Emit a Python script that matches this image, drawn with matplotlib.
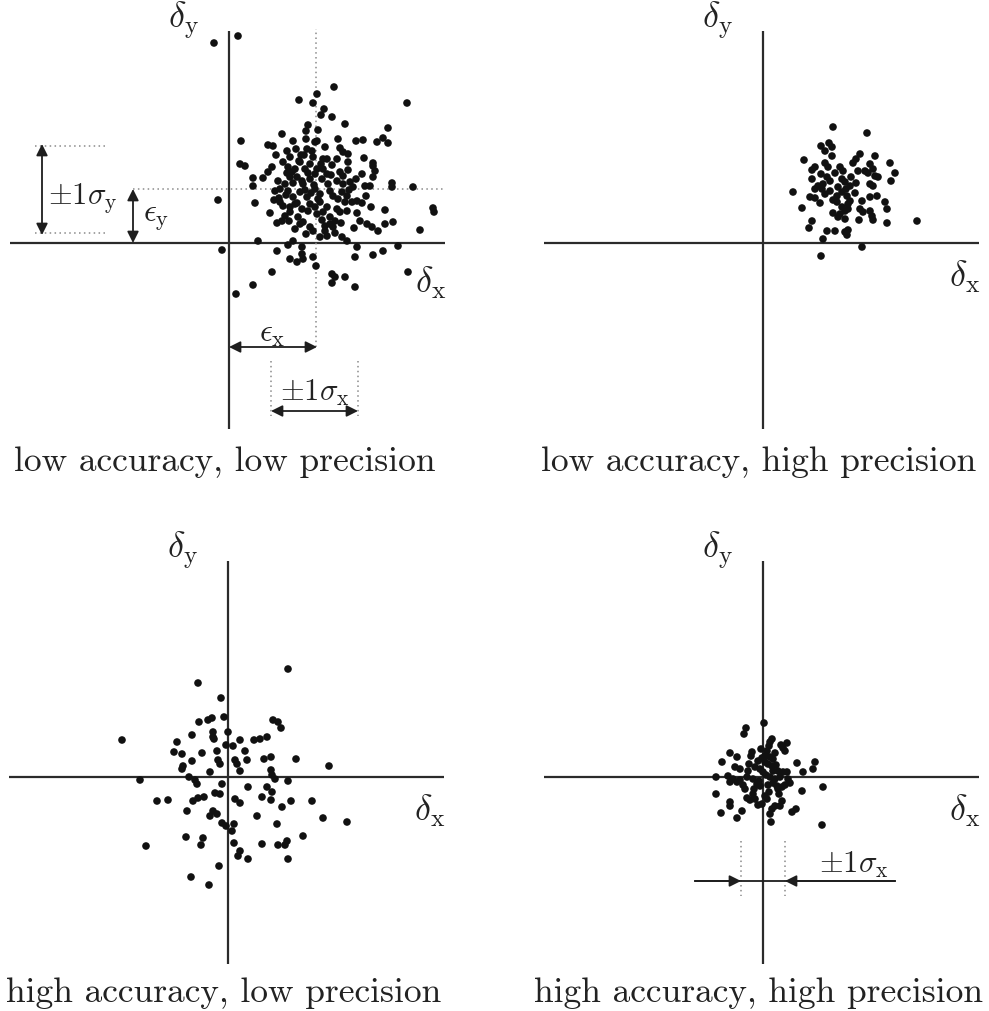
import matplotlib
matplotlib.use("Agg")
import matplotlib.pyplot as plt
from matplotlib.patches import FancyArrowPatch

plt.rcParams["mathtext.fontset"] = "cm"
plt.rcParams["font.family"] = ["cmr10", "DejaVu Serif"]
plt.rcParams["axes.unicode_minus"] = False

# ---------------------------------------------------------------------------
# Measurement errors (delta_x, delta_y) for each of the four cases
# ---------------------------------------------------------------------------
low_acc_low_prec_dx = [
    -15, 9, 70, 88, 84, 95, 92, 79, 77, 89, 53, 12, 39, 44, 77, 88, 78, 75, 70,
    105, 178, 103, 116, 159, 127, 134, 148, 154, 159, 111, 114, 119, 108, 94, 144,
    11, 16, 43, 39, 24, 34, 49, 59, 63, 61, 24, 51, 59, -11, 26, 45, 50, 51, 54,
    56, 53, 74, 66, 81, 84, 29, 64, 59, 73, -7, 48, 73, 61, 68, 74, 84, 87, 43,
    24, 7, 94, 98, 111, 114, 133, 144, 146, 144, 163, 163, 184, 114, 121, 124,
    136, 141, 101, 104, 113, 118, 123, 128, 133, 91, 98, 94, 108, 111, 118, 156,
    204, 205, 101, 106, 96, 101, 131, 138, 143, 149, 125, 156, 164, 191, 96, 104,
    98, 118, 128, 126, 144, 154, 169, 179, 103, 106, 103, 116, 126,
    71, 76, 81, 68, 74, 81, 71, 78, 66, 73, 81, 61, 69, 86, 86, 89, 88, 56, 66, 84,
    67, 61, 54, 72, 83, 64, 58, 92, 98, 103, 88, 79, 73, 93, 99, 85, 91, 82, 76,
    64, 57, 68, 61, 79, 86, 93, 71, 60, 77, 91, 106, 112, 116, 109, 120, 127, 119,
    108, 102, 86, 96, 64, 58, 47, 46, 41, 48, 109, 119, 135, 128, 137, 142, 113,
]
low_acc_low_prec_dy = [
    200, 207, 143, 149, 140, 134, 128, 118, 112, 113, 109, 102, 98, 97, 104, 102,
    94, 88, 82, 156, 140, 126, 119, 115, 102, 103, 101, 105, 100, 95, 91, 89, 84,
    84, 80, 79, 77, 76, 71, 65, 65, 62, 76, 71, 66, 57, 54, 52, 43, 40, 43, 45,
    41, 37, 27, 22, 21, 14, 16, 12, 2, 2, -2, -4, -7, -8, -11, -16, -19, -16, -14,
    -23, -29, -42, -51, 74, 69, 71, 67, 69, 77, 72, 66, 60, 56, 56, 59, 61, 56, 57,
    57, 52, 47, 51, 47, 41, 42, 40, 41, 36, 31, 34, 31, 32, 33, 35, 31, 26, 22, 17,
    19, 22, 19, 16, 12, 15, 19, 21, 13, 12, 16, 7, 2, -4, -14, -12, -8, -3, -29,
    -31, -34, -40, -34, -44,
    81, 74, 79, 66, 59, 64, 51, 46, 39, 34, 39, 31, 26, 69, 54, 44, 29, 59, 74, 86,
    94, 86, 81, 88, 92, 60, 70, 79, 84, 78, 74, 70, 62, 64, 59, 58, 49, 50, 53,
    46, 48, 40, 36, 32, 36, 23, 19, 22, 9, 6, 10, 20, 41, 44, 53, 64, 73,
    62, 68, 101, 96, 102, 92, 88, 52, 30, 20, 104, 81, 85, 30, 47, 36, 6,
]

low_acc_high_prec_dx = [
    70, 104, 58, 66, 69, 62, 69, 41, 97, 93, 90, 112, 65, 52, 49, 77, 80, 107, 110,
    102, 105, 112, 115, 127, 132, 128, 58, 49, 64, 67, 60, 55, 79, 82, 87, 93, 107,
    110, 52, 59, 67, 62, 75, 79, 74, 30, 47, 52, 70, 74, 84, 87, 85, 99, 107, 114,
    122, 39, 79, 82, 85, 77, 97, 100, 107, 109, 124, 154, 49, 46, 75, 82, 96, 110,
    124, 64, 72, 82, 85, 84, 60, 99, 58,
    62, 72, 88, 83, 57, 92, 70, 95,
]
low_acc_high_prec_dy = [
    116, 110, 97, 100, 96, 92, 87, 83, 89, 84, 80, 87, 76, 76, 73, 76, 72, 79, 74,
    72, 70, 67, 66, 80, 70, 62, 69, 64, 66, 62, 59, 57, 64, 61, 57, 60, 59, 57, 54,
    54, 52, 49, 56, 51, 47, 51, 46, 45, 43, 41, 47, 42, 39, 42, 46, 47, 41, 35, 36,
    32, 34, 29, 34, 31, 32, 27, 34, 22, 22, 15, 26, 24, 23, 23, 20, 12, 12, 11, 13,
    8, 4, -4, -13,
    80, 70, 66, 54, 40, 50, 30, 72,
]

high_acc_low_prec_dx = [
    -30, -7, -29, -20, -16, -4, -106, -36, -15, -15, -14, -51, -2, -54, -46, -26,
    -11, -36, -10, -8, -45, -46, -18, -88, -39, -33, -31, -6, -71, -60, -35, -30,
    -24, -13, -8, -41, -15, -18, -11, -6, -2, -42, -25, -27, -82, -9, -37, -19,
    60, 45, 50, 53, 0, 12, 26, 32, 39, 5, 17, 7, 9, 19, 36, 43, 68, 101, 12, 43,
    44, 47, 60, 20, 39, 44, 34, 7, 12, 43, 63, 84, 54, 29, 95, 119, 6, 4, 49, 75,
    6, 34, 50, 57, 59, 12, 10, 20, 60,
]
high_acc_low_prec_dy = [
    94, 79, 55, 57, 59, 60, 37, 42, 45, 40, 38, 35, 32, 25, 23, 24, 26, 16, 17, 13,
    11, 8, 5, -3, 0, -3, -7, -7, -24, -23, -24, -21, -20, -16, -17, -34, -34, -39,
    -37, -46, -49, -60, -61, -68, -69, -89, -100, -108,
    108, 57, 55, 49, 45, 37, 37, 38, 40, 31, 26, 17, 13, 17, 18, 20, 18, 11, 6, 7,
    2, -2, -4, -10, -10, -15, -20, -22, -26, -23, -24, -24, -30, -39, -41, -45,
    -47, -54, -47, -59, -66, -67, -68, -68, -64, -74, -79, -82, -82,
]

high_acc_high_prec_dx = [
    1, -17, -19, 9, 7, 6, 18, 24, 20, 22, -33, -11, -12, 4, 2, -1, 7, 10, -26, -41,
    -5, 2, 5, 9, -14, 34, 52, 50, -28, -23, -15, -3, 0, 10, 15, 20, 24, 40, -47,
    -35, -30, -23, -16, -10, 7, 12, 17, 25, 27, -33, -26, -6, -3, 10, 14, 19, 22,
    -18, 6, 15, 39, 60, -47, -10, 2, 4, -16, -13, -8, -33, -33, 19, 17, -1, -5,
    12, 9, -21, 29, 33, -42, 7, -26, 8, 59,
    -8, 3, -4, 13, -20, 16, -9, 5, -2, 12,
]
high_acc_high_prec_dy = [
    54, 49, 43, 38, 35, 31, 32, 34, 29, 26, 24, 25, 21, 26, 21, 19, 20, 18, 20, 15,
    16, 15, 13, 11, 13, 14, 15, 8, 10, 8, 6, 8, 5, 6, 6, 5, 5, 5, 0, 1, -2, -3, 0,
    -2, 0, -2, 0, -2, -6, -5, -5, -7, -9, -6, -9, -10, -8, -12, -15, -12, -14, -10,
    -17, -17, -19, -22, -21, -23, -22, -25, -29, -24, -29, -27, -28, -29, -32, -34,
    -35, -32, -36, -37, -41, -45, -48,
    10, 2, -4, 12, -8, -17, -12, -8, 28, 24,
]

titles = [
    "low accuracy, low precision",
    "low accuracy, high precision",
    "high accuracy, low precision",
    "high accuracy, high precision",
]

# ---------------------------------------------------------------------------
W, H = 989, 1012
fig = plt.figure(figsize=(W / 100, H / 100), dpi=100)

LINE = "#2b2b2b"
DOT = "#111111"
DOTTED = dict(color="#8a8a8a", lw=1.1, linestyle=(0, (1, 2.2)))

# (left, top) of each quadrant and the pixel position of its origin
quadrants = [
    ((0, 0), (229, 244)),
    ((W / 2, 0), (763, 244)),
    ((0, H / 2), (228, 778)),
    ((W / 2, H / 2), (763, 778)),
]
data = [
    (low_acc_low_prec_dx, low_acc_low_prec_dy),
    (low_acc_high_prec_dx, low_acc_high_prec_dy),
    (high_acc_low_prec_dx, high_acc_low_prec_dy),
    (high_acc_high_prec_dx, high_acc_high_prec_dy),
]

axes = []
for (ql, qt), (ox, oy) in quadrants:
    qw, qh = W / 2, H / 2
    ax = fig.add_axes([ql / W, 1 - (qt + qh) / H, qw / W, qh / H])
    # one data unit per pixel, origin placed at (ox, oy)
    ax.set_xlim(ql - ox, ql + qw - ox)
    ax.set_ylim(oy - (qt + qh), oy - qt)
    ax.set_axis_off()
    axes.append(ax)

top_row = [True, True, False, False]
for i, ax in enumerate(axes):
    y_top = 212 if top_row[i] else 216
    y_bot = -186 if top_row[i] else -187
    ax.plot([-219, 216], [0, 0], color=LINE, lw=1.6, solid_capstyle="butt")
    ax.plot([0, 0], [y_bot, y_top], color=LINE, lw=1.6, solid_capstyle="butt")
    dx, dy = data[i]
    ax.scatter(dx, dy, s=30, color=DOT, edgecolors="none", zorder=3)
    ax.text(-46, y_top + 12, r"$\delta_{\mathrm{y}}$", fontsize=26,
            ha="center", va="center", color="#222222")
    xlab_y = -39 if i == 0 else -33
    ax.text(202, xlab_y, r"$\delta_{\mathrm{x}}$", fontsize=26,
            ha="center", va="center", color="#222222")
    ax.text(-4, -218 if top_row[i] else -215, titles[i], fontsize=25.5,
            ha="center", va="center", color="#222222")


def double_arrow(ax, p0, p1, style="<|-|>"):
    ax.add_patch(FancyArrowPatch(p0, p1, arrowstyle=style, mutation_scale=17,
                                 color="#1e1e1e", lw=1.3, shrinkA=0, shrinkB=0,
                                 zorder=4))


# Annotations of the first case: bias and spread
ax = axes[0]
ax.plot([87, 87], [-104, 214], **DOTTED)
ax.plot([-96, 216], [54, 54], **DOTTED)
ax.plot([-194, -122], [97, 97], **DOTTED)
ax.plot([-194, -122], [10, 10], **DOTTED)
double_arrow(ax, (-187, 99), (-187, 8))
ax.text(-181, 46, r"$\pm1\sigma_{\mathrm{y}}$", fontsize=22, ha="left",
        va="center", color="#222222")
double_arrow(ax, (-96, 54), (-96, 0))
ax.text(-86, 25, r"$\epsilon_{\mathrm{y}}$", fontsize=23, ha="left",
        va="center", color="#222222")
double_arrow(ax, (0, -104), (88, -104))
ax.text(43, -91, r"$\epsilon_{\mathrm{x}}$", fontsize=23, ha="center",
        va="center", color="#222222")
ax.plot([42, 42], [-118, -173], **DOTTED)
ax.plot([129, 129], [-118, -173], **DOTTED)
double_arrow(ax, (42, -168), (129, -168))
ax.text(86, -149, r"$\pm1\sigma_{\mathrm{x}}$", fontsize=22, ha="center",
        va="center", color="#222222")

# Annotation of the last case: spread only
ax = axes[3]
ax.plot([-22, -22], [-64, -119], **DOTTED)
ax.plot([22, 22], [-64, -119], **DOTTED)
ax.plot([-68, 132], [-104, -104], color="#1e1e1e", lw=1.3)
double_arrow(ax, (-68, -104), (-22, -104), style="-|>")
double_arrow(ax, (132, -104), (22, -104), style="-|>")
ax.text(91, -87, r"$\pm1\sigma_{\mathrm{x}}$", fontsize=22, ha="center",
        va="center", color="#222222")

fig.savefig("out.png", dpi=100, facecolor="white")
